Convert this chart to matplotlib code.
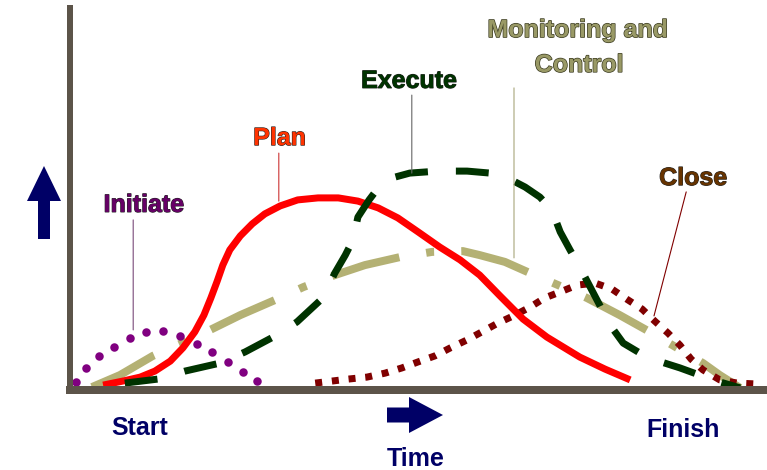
import matplotlib
matplotlib.use('Agg')
import matplotlib.pyplot as plt
import matplotlib.patheffects as pe
from matplotlib.patches import FancyArrow
from matplotlib.transforms import IdentityTransform

plt.rcParams['font.family'] = ['Liberation Sans', 'DejaVu Sans']

# effort over time for each project phase (time 0..99, effort 0..95.5)
initiate_t = [0.9, 2.4, 4.2, 6.4, 8.6, 10.9, 13.4, 15.8, 18.2, 20.4, 22.6, 24.8, 26.8]
initiate_v = [1.9, 5.4, 8.4, 10.6, 12.9, 14.4, 14.6, 13.4, 11.4, 9.4, 6.9, 4.4, 2.1]

plan_t = [4.8, 7.6, 10.1, 12.2, 14.4, 16.2, 17.9, 19.2, 20.2, 21.1, 21.9, 22.9, 24.4,
          26.1, 27.9, 30.1, 32.6, 35.5, 38.4, 41.2, 44.1, 46.9, 49.8, 52.9, 55.8,
          58.6, 61.5, 64.8, 68.2, 72.9, 76.5, 80.1]
plan_v = [1.1, 2.1, 3.1, 4.6, 7.1, 10.4, 14.4, 18.6, 22.9, 27.1, 31.1, 34.9, 38.4,
          41.4, 43.9, 45.9, 47.4, 47.9, 47.9, 47.1, 45.4, 42.9, 39.4, 35.6, 32.4,
          28.6, 23.4, 17.6, 13.1, 8.1, 5.1, 2.4]

execute_t = [7.9, 12.6, 16.5, 21.5, 25.1, 29.4, 32.5, 36.2, 37.9, 39.4, 40.5, 41.2,
             42.8, 44.4, 46.5, 48.6, 52.6, 56.8, 60.1, 62.9, 65.1, 67.2, 68.9, 70.1,
             71.5, 72.9, 74.6, 75.8, 76.9, 79.1, 81.5, 83.6, 87.2, 91.9, 95.8]
execute_v = [1.6, 2.6, 4.6, 6.6, 9.4, 13.4, 16.9, 22.9, 29.1, 33.6, 37.4, 43.1,
             47.4, 51.1, 53.1, 54.1, 54.6, 54.6, 54.1, 52.6, 50.6, 48.1, 44.9, 39.4,
             34.9, 30.6, 24.9, 20.9, 16.9, 11.6, 9.1, 7.4, 5.4, 2.4, 0.4]

monitor_t = [3.2, 7.2, 11.9, 15.8, 20.1, 24.4, 29.4, 33.4, 37.9, 42.2, 47.2, 51.8,
             56.2, 58.6, 62.2, 65.8, 69.8, 73.9, 78.6, 82.9, 86.8, 90.5, 92.9, 95.8]
monitor_v = [0.6, 3.6, 8.4, 11.4, 14.9, 18.6, 22.4, 25.6, 28.6, 31.1, 33.1, 34.4,
             34.6, 33.6, 31.9, 29.1, 26.1, 22.9, 18.6, 14.4, 10.4, 6.6, 3.6, 0.4]

close_t = [35.1, 39.8, 42.5, 45.1, 47.5, 49.8, 52.2, 54.4, 56.8, 58.9, 61.2, 63.4,
           65.8, 67.9, 70.4, 72.5, 75.1, 77.5, 79.6, 81.8, 83.6, 85.5, 87.2, 88.8,
           90.5, 92.9, 95.4, 97.9]
close_v = [1.6, 2.6, 3.1, 4.1, 5.4, 6.9, 8.4, 10.4, 12.4, 14.4, 16.6, 18.4,
           20.6, 22.9, 24.6, 26.1, 26.6, 25.1, 22.6, 20.1, 17.1, 14.1, 11.1, 7.6,
           4.9, 2.4, 1.6, 1.4]

NAVY = '#000066'
AXIS = '#5c5449'
PX = 0.72  # points per pixel at dpi 100

fig = plt.figure(figsize=(7.67, 4.70), dpi=100)
ax = fig.add_axes([69.5 / 767, 80.5 / 470, 693 / 767, 382 / 470])
ax.set_xlim(0, 99)
ax.set_ylim(0, 95.5)
ax.set_xticks([])
ax.set_yticks([])
for side in ('top', 'right'):
    ax.spines[side].set_visible(False)
ax.spines['left'].set_linewidth(6 * PX)
ax.spines['bottom'].set_linewidth(8 * PX)
for side in ('left', 'bottom'):
    ax.spines[side].set_color(AXIS)
    ax.spines[side].set_capstyle('projecting')

# curves
ax.plot(monitor_t, monitor_v, color='#b4b174', lw=8 * PX, solid_capstyle='butt',
        dash_capstyle='butt', ls=(0, (8.75, 3.4, 1.0, 3.4)), zorder=2)
ax.plot(close_t, close_v, color='#800000', lw=7 * PX, dash_capstyle='butt',
        ls=(0, (1.0, 1.4)), zorder=2.1)
ax.plot(initiate_t, initiate_v, ls='none', marker='o', ms=8.5 * PX,
        color='#800080', mec='none', zorder=2.1)
ax.plot(plan_t, plan_v, color='#ff0000', lw=7 * PX, solid_capstyle='butt',
        solid_joinstyle='round', zorder=2.2)
ax.plot(execute_t, execute_v, color='#003300', lw=7 * PX, dash_capstyle='butt',
        ls=(0, (4.7, 4.0)), zorder=2.3)

# labels with leader lines
labels = [
    ('Initiate', '#660066', '#7a4a7a', (10.6, 44.4), (9.1, 42.4), (9.1, 14.9)),
    ('Plan', '#ff3300', '#cc3333', (30.0, 61.1), (29.9, 59.1), (29.9, 47.1)),
    ('Execute', '#003300', '#666666', (48.5, 75.4), (48.9, 73.6), (48.9, 54.1)),
    ('Close', '#663300', '#800000', (89.1, 51.1), (88.1, 49.4), (83.5, 18.4)),
]
for text, tcolor, lcolor, pos, start, end in labels:
    ax.text(pos[0], pos[1], text, color=tcolor, fontsize=18, fontweight='bold',
            ha='center', va='baseline',
            path_effects=[pe.withStroke(linewidth=0.8, foreground='#222222')])
    ax.annotate('', xy=end, xytext=start,
                arrowprops=dict(arrowstyle='-', color=lcolor, lw=0.8,
                                shrinkA=0, shrinkB=0))

for line, pos in (('Monitoring and', (72.6, 88.1)), ('Control', (72.8, 79.4))):
    ax.text(pos[0], pos[1], line, color='#999966', fontsize=18, fontweight='bold',
            ha='center', va='baseline',
            path_effects=[pe.withStroke(linewidth=1.0, foreground='#3a3a20')])
ax.annotate('', xy=(63.5, 32.9), xytext=(63.5, 75.4),
            arrowprops=dict(arrowstyle='-', color='#a8a67a', lw=0.8,
                            shrinkA=0, shrinkB=0))

# axis captions
fig.text(140 / 767, 35 / 470, 'Start', color=NAVY, fontsize=18,
         fontweight='bold', ha='center', va='baseline')
fig.text(683 / 767, 33 / 470, 'Finish', color=NAVY, fontsize=18,
         fontweight='bold', ha='center', va='baseline')
fig.text(416 / 767, 4 / 470, 'Time', color=NAVY, fontsize=18,
         fontweight='bold', ha='center', va='baseline')

# direction arrows (figure pixels)
fig.add_artist(FancyArrow(44, 231, 0, 73, width=12, head_width=34, head_length=35,
                          length_includes_head=True, color=NAVY, lw=0,
                          transform=IdentityTransform()))
fig.add_artist(FancyArrow(387, 55, 56, 0, width=15, head_width=36, head_length=34,
                          length_includes_head=True, color=NAVY, lw=0,
                          transform=IdentityTransform()))

fig.savefig('out.png', dpi=100)
